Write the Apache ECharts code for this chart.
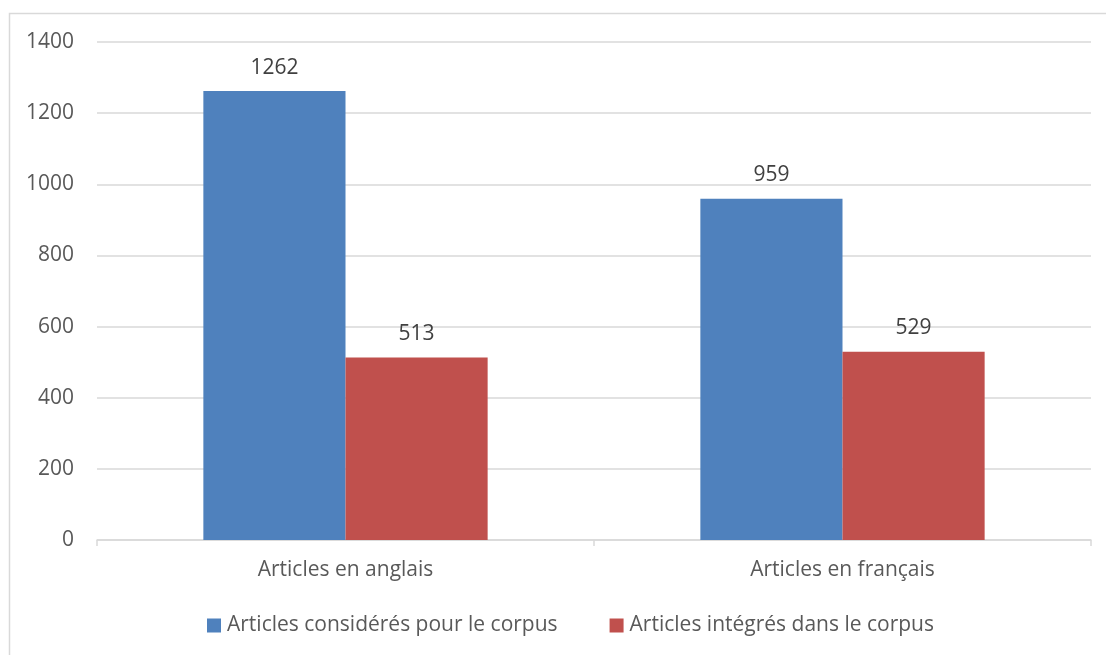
<!DOCTYPE html>
<html>
<head>
<meta charset="utf-8">
<script src="https://cdn.jsdelivr.net/npm/echarts@6/dist/echarts.min.js"></script>
<style>
html, body { margin: 0; padding: 0; background: #fff; }
#chart { width: 1106px; height: 655px; }
</style>
</head>
<body>
<div id="chart"></div>
<script>
'use strict';

var categories = ['Articles en anglais', 'Articles en français'];
var seriesNames = ['Articles considérés pour le corpus', 'Articles intégrés dans le corpus'];
var considered = [1262, 959];
var integrated = [513, 529];
var colors = ['#4F81BD', '#C0504D'];

var textColor = '#595959';
var fontFamily = '"Open Sans", sans-serif';

var chart = echarts.init(document.getElementById('chart'));

var labelStyle = {
    show: true,
    position: 'top',
    distance: 13,
    color: '#404040',
    fontSize: 21,
    fontFamily: fontFamily
};

var option = {
    animation: false,
    backgroundColor: '#fff',
    graphic: [{
        type: 'rect',
        shape: { x: 9.5, y: 13.5, width: 1110, height: 660 },
        style: { fill: 'none', stroke: '#D9D9D9', lineWidth: 1.5 },
        silent: true
    }],
    grid: {
        left: 97,
        right: 15,
        top: 42,
        bottom: 115
    },
    legend: {
        top: 610,
        left: 202,
        itemWidth: 14,
        itemHeight: 14,
        itemGap: 52,
        icon: 'rect',
        textStyle: { color: textColor, fontSize: 21, fontFamily: fontFamily, padding: [0, 0, 0, 1] },
        data: seriesNames
    },
    xAxis: {
        type: 'category',
        data: categories,
        axisLine: { lineStyle: { color: '#D9D9D9', width: 1.5 } },
        axisTick: { show: true, length: 6, lineStyle: { color: '#D9D9D9', width: 1.5 } },
        axisLabel: { color: textColor, fontSize: 21, fontFamily: fontFamily, margin: 20 }
    },
    yAxis: {
        type: 'value',
        min: 0,
        max: 1400,
        interval: 200,
        axisLine: { show: false },
        axisTick: { show: false },
        axisLabel: {
            color: textColor,
            fontSize: 21,
            fontFamily: fontFamily,
            margin: 23,
            formatter: function (v) { return String(v); }
        },
        splitLine: { lineStyle: { color: '#D9D9D9', width: 1.5 } }
    },
    series: [{
        name: seriesNames[0],
        type: 'bar',
        data: considered,
        barGap: '0%',
        barCategoryGap: '42.8%',
        itemStyle: { color: colors[0] },
        label: labelStyle
    }, {
        name: seriesNames[1],
        type: 'bar',
        data: integrated,
        itemStyle: { color: colors[1] },
        label: labelStyle
    }]
};

chart.setOption(option);
</script>
</body>
</html>
